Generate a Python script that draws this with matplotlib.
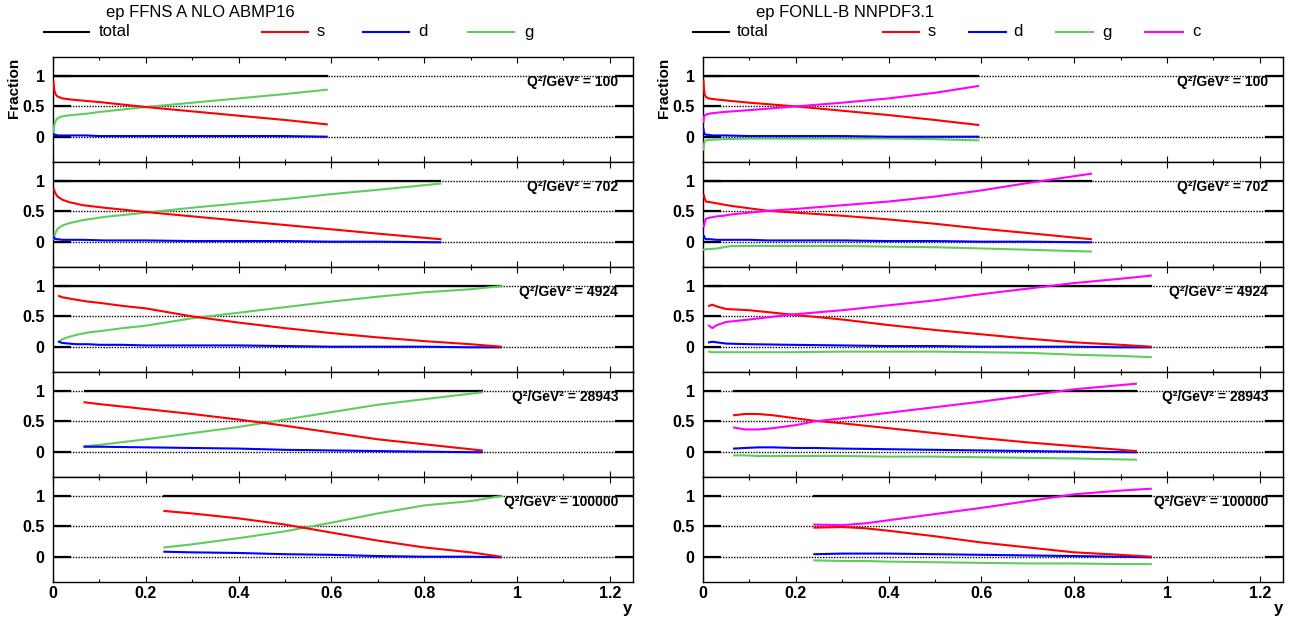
import matplotlib
matplotlib.use("Agg")
import matplotlib.pyplot as plt
from matplotlib.lines import Line2D
from matplotlib.ticker import MultipleLocator, FuncFormatter

plt.rcParams['font.family'] = ['Liberation Sans', 'DejaVu Sans']

# Q2 values of the five rows
q2_labels = ['100', '702', '4924', '28943', '100000']

# ---- left: ep FFNS A NLO ABMP16 ----
ffns_y = [
  [0.001, 0.003, 0.006, 0.01, 0.02, 0.04, 0.07, 0.1, 0.15, 0.2, 0.3, 0.4, 0.5, 0.59],
  [0.002, 0.004, 0.007, 0.01, 0.02, 0.035, 0.065, 0.11, 0.2, 0.3, 0.4, 0.5, 0.6, 0.7, 0.835],
  [0.013, 0.02, 0.035, 0.05, 0.075, 0.1, 0.15, 0.2, 0.3, 0.4, 0.5, 0.6, 0.7, 0.8, 0.9, 0.965],
  [0.068, 0.1, 0.2, 0.3, 0.4, 0.5, 0.6, 0.7, 0.8, 0.924],
  [0.24, 0.3, 0.4, 0.5, 0.6, 0.7, 0.8, 0.9, 0.965]]
ffns_s = [
  [0.90, 0.75, 0.69, 0.66, 0.63, 0.61, 0.59, 0.57, 0.53, 0.49, 0.42, 0.35, 0.28, 0.21],
  [0.86, 0.81, 0.77, 0.74, 0.69, 0.65, 0.60, 0.56, 0.49, 0.42, 0.35, 0.28, 0.21, 0.14, 0.05],
  [0.83, 0.81, 0.79, 0.77, 0.74, 0.72, 0.67, 0.63, 0.50, 0.40, 0.31, 0.23, 0.16, 0.10, 0.05, 0.01],
  [0.81, 0.78, 0.70, 0.62, 0.53, 0.43, 0.32, 0.21, 0.13, 0.03],
  [0.75, 0.71, 0.63, 0.53, 0.40, 0.27, 0.16, 0.08, 0.01]]
ffns_d = [
  [0.05, 0.04, 0.04, 0.03, 0.03, 0.03, 0.03, 0.02, 0.02, 0.02, 0.02, 0.02, 0.02, 0.01],
  [0.08, 0.06, 0.05, 0.05, 0.04, 0.04, 0.04, 0.03, 0.03, 0.02, 0.02, 0.02, 0.01, 0.01, 0.00],
  [0.09, 0.07, 0.06, 0.05, 0.05, 0.04, 0.04, 0.03, 0.03, 0.03, 0.02, 0.01, 0.01, 0.01, 0.00, 0.00],
  [0.09, 0.09, 0.08, 0.07, 0.06, 0.04, 0.03, 0.02, 0.01, 0.00],
  [0.09, 0.08, 0.07, 0.05, 0.04, 0.02, 0.01, 0.01, 0.00]]
ffns_g = [
  [0.05, 0.21, 0.27, 0.31, 0.34, 0.36, 0.38, 0.41, 0.45, 0.49, 0.56, 0.63, 0.70, 0.77],
  [0.06, 0.13, 0.18, 0.22, 0.27, 0.31, 0.36, 0.41, 0.48, 0.56, 0.63, 0.70, 0.78, 0.85, 0.95],
  [0.09, 0.13, 0.17, 0.20, 0.24, 0.26, 0.31, 0.35, 0.47, 0.56, 0.65, 0.74, 0.82, 0.89, 0.94, 0.99],
  [0.10, 0.12, 0.21, 0.31, 0.41, 0.53, 0.65, 0.77, 0.86, 0.97],
  [0.16, 0.21, 0.31, 0.42, 0.56, 0.71, 0.84, 0.91, 0.99]]

# ---- right: ep FONLL-B NNPDF3.1 ----
nnpdf_y = [
  [0.001, 0.002, 0.004, 0.007, 0.012, 0.02, 0.045, 0.1, 0.2, 0.3, 0.4, 0.5, 0.593],
  [0.002, 0.004, 0.006, 0.015, 0.03, 0.045, 0.06, 0.1, 0.14, 0.2, 0.3, 0.4, 0.5, 0.6, 0.7, 0.836],
  [0.013, 0.02, 0.03, 0.05, 0.1, 0.19, 0.3, 0.4, 0.5, 0.6, 0.7, 0.8, 0.9, 0.965],
  [0.067, 0.09, 0.12, 0.15, 0.2, 0.24, 0.3, 0.4, 0.5, 0.6, 0.7, 0.8, 0.933],
  [0.24, 0.3, 0.35, 0.4, 0.5, 0.6, 0.7, 0.8, 0.9, 0.965]]
nnpdf_s = [
  [0.92, 0.78, 0.68, 0.65, 0.63, 0.62, 0.60, 0.56, 0.50, 0.43, 0.36, 0.28, 0.20],
  [0.76, 0.70, 0.66, 0.65, 0.63, 0.61, 0.59, 0.55, 0.51, 0.48, 0.43, 0.37, 0.30, 0.22, 0.15, 0.05],
  [0.67, 0.69, 0.66, 0.62, 0.60, 0.53, 0.45, 0.36, 0.28, 0.21, 0.14, 0.08, 0.04, 0.01],
  [0.60, 0.62, 0.62, 0.60, 0.55, 0.51, 0.47, 0.39, 0.31, 0.23, 0.16, 0.10, 0.02],
  [0.48, 0.49, 0.47, 0.43, 0.34, 0.24, 0.16, 0.08, 0.04, 0.01]]
nnpdf_d = [
  [0.13, 0.08, 0.05, 0.04, 0.04, 0.03, 0.03, 0.02, 0.02, 0.02, 0.01, 0.01, 0.01],
  [0.10, 0.07, 0.05, 0.05, 0.04, 0.04, 0.04, 0.04, 0.03, 0.03, 0.03, 0.02, 0.02, 0.01, 0.01, 0.00],
  [0.08, 0.09, 0.08, 0.06, 0.05, 0.04, 0.03, 0.02, 0.02, 0.01, 0.01, 0.01, 0.00, 0.00],
  [0.06, 0.07, 0.08, 0.08, 0.07, 0.07, 0.06, 0.05, 0.04, 0.03, 0.02, 0.01, 0.00],
  [0.05, 0.06, 0.06, 0.06, 0.05, 0.04, 0.03, 0.02, 0.01, 0.00]]
nnpdf_g = [
  [-0.20, -0.12, -0.06, -0.05, -0.04, -0.04, -0.03, -0.02, -0.02, -0.02, -0.02, -0.03, -0.05],
  [-0.12, -0.12, -0.11, -0.11, -0.10, -0.08, -0.06, -0.06, -0.06, -0.06, -0.06, -0.07, -0.08, -0.10, -0.12, -0.15],
  [-0.07, -0.08, -0.08, -0.08, -0.08, -0.08, -0.07, -0.07, -0.07, -0.08, -0.09, -0.12, -0.14, -0.16],
  [-0.05, -0.05, -0.06, -0.06, -0.06, -0.06, -0.06, -0.07, -0.07, -0.08, -0.09, -0.10, -0.12],
  [-0.05, -0.06, -0.06, -0.07, -0.08, -0.09, -0.10, -0.10, -0.11, -0.11]]
nnpdf_c = [
  [0.25, 0.33, 0.36, 0.37, 0.38, 0.39, 0.41, 0.44, 0.50, 0.56, 0.63, 0.72, 0.83],
  [0.26, 0.33, 0.38, 0.40, 0.42, 0.43, 0.45, 0.48, 0.51, 0.54, 0.60, 0.66, 0.74, 0.84, 0.96, 1.11],
  [0.35, 0.31, 0.36, 0.41, 0.45, 0.53, 0.60, 0.68, 0.76, 0.86, 0.95, 1.04, 1.11, 1.16],
  [0.40, 0.37, 0.37, 0.39, 0.44, 0.50, 0.55, 0.64, 0.73, 0.82, 0.92, 1.02, 1.11],
  [0.53, 0.52, 0.55, 0.60, 0.70, 0.80, 0.91, 1.02, 1.08, 1.11]]

# total is flat at one over the covered y range
total_level = 1.0

RED = '#ff0000'
BLUE = '#0000ff'
GREEN = '#5fcc5f'
MAGENTA = '#ff00ff'

W, H = 1295, 625
fig = plt.figure(figsize=(W / 100, H / 100), dpi=100)

panel_top = [57, 162, 267, 372, 477]
panel_h = 105
panel_left = [53, 703]
panel_w = 580

short_fmt = FuncFormatter(lambda v, pos: '%g' % round(v, 3))


def make_panel(left, top, bottom_row):
  ax = fig.add_axes([left / W, 1 - (top + panel_h) / H, panel_w / W, panel_h / H])
  ax.set_xlim(0, 1.25)
  ax.set_ylim(-0.4, 1.3)
  for lev in (0, 0.5, 1):
    ax.axhline(lev, color='black', lw=1.0, ls=(0, (1, 1)), zorder=1)
  ax.xaxis.set_major_locator(MultipleLocator(0.2))
  ax.xaxis.set_minor_locator(MultipleLocator(0.1))
  ax.xaxis.set_major_formatter(short_fmt)
  ax.set_yticks([0, 0.5, 1])
  ax.set_yticklabels(['0', '0.5', '1'])
  ax.tick_params(axis='y', which='major', direction='in', length=13, width=1.6,
                 left=True, right=True, labelsize=11.5, pad=6)
  ax.tick_params(axis='x', which='major', direction='in', length=4, width=0.8,
                 top=True, bottom=True, labelsize=11.5, pad=3)
  ax.tick_params(axis='x', which='minor', direction='in', length=2, width=0.8,
                 top=True, bottom=True)
  for lab in ax.get_yticklabels() + ax.get_xticklabels():
    lab.set_fontweight('bold')
  if not bottom_row:
    ax.tick_params(axis='x', labelbottom=False)
  for sp in ax.spines.values():
    sp.set_linewidth(1.0)
  return ax


def draw_side(left, ys, series, q2s):
  axes = []
  for i in range(5):
    ax = make_panel(left, panel_top[i], i == 4)
    y = ys[i]
    ax.plot([y[0], y[-1]], [total_level, total_level], color='black', lw=1.6, zorder=2)
    for vals, col in series:
      ax.plot(y, vals[i], color=col, lw=1.5, zorder=3)
    ax.text(1.218, 0.9, 'Q²/GeV² = ' + q2s[i], ha='right', va='center',
            fontsize=10, fontweight='bold')
    axes.append(ax)
  return axes


draw_side(panel_left[0], ffns_y,
          [(ffns_g, GREEN), (ffns_d, BLUE), (ffns_s, RED)], q2_labels)
draw_side(panel_left[1], nnpdf_y,
          [(nnpdf_g, GREEN), (nnpdf_d, BLUE), (nnpdf_s, RED), (nnpdf_c, MAGENTA)], q2_labels)

# axis titles
for lx in (14, 664):
  fig.text(lx / W, 1 - 88 / H, 'Fraction', rotation=90, ha='center', va='center',
           fontsize=11, fontweight='bold')
for xx in (627, 1278):
  fig.text(xx / W, 1 - 609 / H, 'y', ha='center', va='center',
           fontsize=12, fontweight='bold')


# legends
def legend_entry(x0, x1, xt, col, label):
  fig.add_artist(Line2D([x0 / W, x1 / W], [1 - 32 / H, 1 - 32 / H], color=col, lw=1.5))
  fig.text(xt / W, 1 - 32 / H, label, ha='left', va='center', fontsize=12)


fig.text(106 / W, 1 - 12 / H, 'ep FFNS A NLO ABMP16', ha='left', va='center', fontsize=12)
legend_entry(44, 89, 99, 'black', 'total')
legend_entry(262, 308, 317, RED, 's')
legend_entry(363, 409, 418, BLUE, 'd')
legend_entry(468, 514, 524, GREEN, 'g')

fig.text(756 / W, 1 - 12 / H, 'ep FONLL-B NNPDF3.1', ha='left', va='center', fontsize=12)
legend_entry(693, 729, 737, 'black', 'total')
legend_entry(883, 919, 928, RED, 's')
legend_entry(969, 1006, 1013, BLUE, 'd')
legend_entry(1056, 1093, 1102, GREEN, 'g')
legend_entry(1145, 1183, 1192, MAGENTA, 'c')

fig.savefig('out.png', dpi=100)
